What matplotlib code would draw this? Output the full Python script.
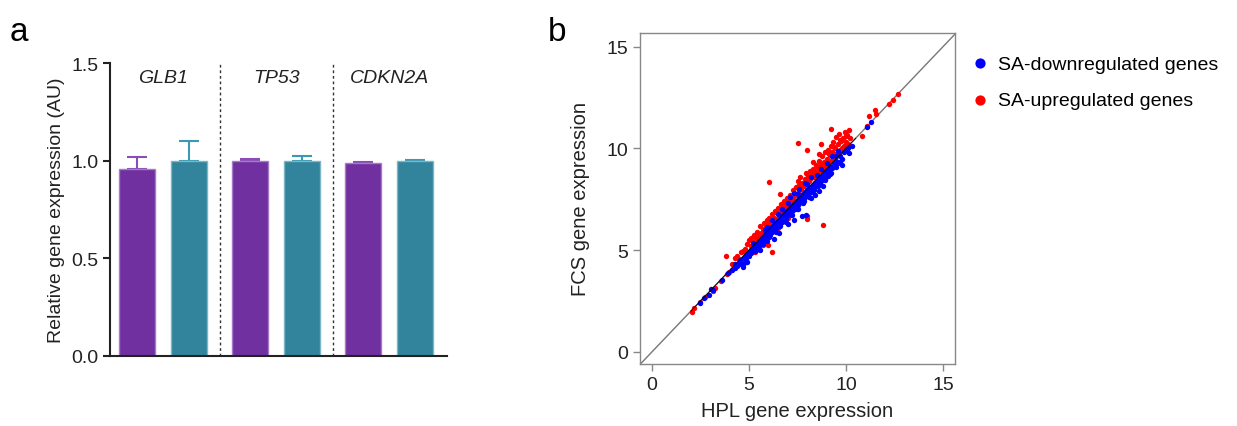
import matplotlib
matplotlib.use("Agg")
import matplotlib.pyplot as plt
import numpy as np

plt.rcParams['font.family'] = ['Liberation Sans', 'DejaVu Sans']

# --- panel a data ---
genes = ["GLB1", "TP53", "CDKN2A"]
hpl_vals = [0.96, 1.00, 0.987]
hpl_err = [0.06, 0.01, 0.005]
fcs_vals = [1.00, 1.00, 1.00]
fcs_err = [0.10, 0.025, 0.002]
a_ticks = [0.0, 0.5, 1.0, 1.5]

# --- panel b data (HPL x, FCS y) ---
down_x = [2.45, 2.7, 2.95, 3.05, 3.15, 3.6, 3.9, 4.1, 4.25, 4.3, 4.4, 4.5, 4.55, 4.6, 4.7, 4.75, 4.8, 4.85, 4.9, 5.0,
          5.0, 5.1, 5.1, 5.2, 5.25, 5.3, 5.35, 5.4, 5.45, 5.5, 5.5, 5.6, 5.6, 5.65, 5.7, 5.75, 5.8, 5.85, 5.9, 5.95,
          6.0, 6.0, 6.05, 6.1, 6.1, 6.15, 6.2, 6.2, 6.25, 6.3, 6.3, 6.35, 6.4, 6.4, 6.45, 6.5, 6.5, 6.55, 6.6, 6.6,
          6.65, 6.7, 6.7, 6.75, 6.8, 6.8, 6.85, 6.9, 6.9, 6.95, 7.0, 7.0, 7.05, 7.1, 7.1, 7.15, 7.2, 7.2, 7.25, 7.3,
          7.3, 7.35, 7.4, 7.4, 7.45, 7.5, 7.5, 7.55, 7.6, 7.6, 7.65, 7.7, 7.7, 7.75, 7.8, 7.8, 7.85, 7.9, 7.9, 7.95,
          8.0, 8.0, 8.05, 8.1, 8.1, 8.2, 8.2, 8.3, 8.3, 8.4, 8.4, 8.5, 8.5, 8.6, 8.6, 8.7, 8.7, 8.8, 8.8, 8.9,
          9.0, 9.0, 9.1, 9.2, 9.2, 9.3, 9.4, 9.5, 9.5, 9.6, 9.7, 9.8, 9.9, 10.0, 10.1, 10.3, 11.3, 11.1,
          6.3, 6.55, 7.0, 7.3, 7.75, 7.95, 8.2, 8.4, 8.6, 8.8, 5.8, 6.2, 6.7, 7.1, 7.3, 7.6, 7.9, 8.2, 8.7, 9.0,
          9.3, 9.6, 10.15, 9.25, 4.75, 5.55, 5.95, 6.4, 6.9, 7.2, 7.5, 7.8, 8.1, 5.2, 5.9, 6.5, 7.0, 7.5, 8.0, 8.5,
          9.5, 9.8, 4.9, 5.3, 5.7, 6.1, 6.6, 7.15, 7.45, 7.85, 8.35, 8.9, 6.75, 7.25, 7.65, 8.15, 8.55, 9.05, 6.05,
          6.45, 6.85, 7.35, 7.7, 8.25, 8.65, 9.15, 9.7]
down_y = [2.4, 2.65, 2.8, 3.1, 3.05, 3.55, 3.85, 4.0, 4.1, 4.3, 4.2, 4.35, 4.5, 4.3, 4.15, 4.6, 4.7, 4.5, 4.8, 4.9,
          4.7, 5.0, 4.85, 5.1, 4.95, 5.2, 5.0, 5.3, 5.15, 5.45, 5.2, 5.5, 5.3, 5.6, 5.45, 5.7, 5.5, 5.75, 5.6, 5.9,
          5.7, 5.95, 5.8, 6.05, 5.85, 6.0, 6.15, 5.9, 6.1, 6.25, 6.0, 6.2, 6.35, 6.1, 6.3, 6.45, 6.2, 6.4, 6.55, 6.3,
          6.5, 6.65, 6.4, 6.6, 6.75, 6.5, 6.7, 6.85, 6.6, 6.8, 6.95, 6.7, 6.9, 7.05, 6.8, 7.0, 7.15, 6.9, 7.1, 7.25,
          7.0, 7.2, 7.35, 7.1, 7.3, 7.45, 7.2, 7.4, 7.55, 7.3, 7.5, 7.65, 7.4, 7.6, 7.75, 7.5, 7.7, 7.85, 7.6, 7.8,
          7.95, 7.7, 7.9, 8.05, 7.8, 8.1, 7.9, 8.2, 8.0, 8.3, 8.1, 8.4, 8.2, 8.5, 8.3, 8.6, 8.4, 8.7, 8.5, 8.8,
          8.9, 8.7, 9.0, 9.1, 8.8, 9.1, 9.3, 9.4, 9.6, 9.3, 9.6, 9.5, 9.8, 9.9, 10.0, 10.1, 11.3, 11.05,
          5.55, 5.85, 6.3, 6.5, 6.65, 6.7, 7.55, 7.7, 7.9, 8.15, 6.0, 6.5, 7.0, 7.6, 7.8, 8.0, 8.3, 8.6, 9.0, 9.3,
          9.6, 9.85, 9.75, 9.05, 4.35, 5.0, 5.45, 5.9, 6.4, 6.7, 7.0, 7.3, 7.6, 5.35, 6.15, 6.75, 7.3, 7.75, 8.25, 8.7,
          9.1, 9.2, 4.4, 4.95, 5.3, 5.75, 6.2, 6.75, 7.0, 7.4, 7.95, 8.45, 6.45, 6.95, 7.35, 7.85, 8.15, 8.65, 5.65,
          6.15, 6.5, 7.05, 7.35, 7.85, 8.25, 8.75, 9.35]

up_x = [2.05, 2.15, 2.45, 2.75, 3.15, 3.25, 3.55, 3.85, 3.95, 3.8, 4.1, 4.3, 4.4, 4.5, 4.6, 4.7, 4.8, 4.9, 5.0, 5.1,
        5.1, 5.2, 5.25, 5.3, 5.35, 5.4, 5.5, 5.55, 5.6, 5.7, 5.75, 5.8, 5.85, 5.9, 5.95, 6.0, 6.05, 6.03, 6.1, 6.15,
        6.2, 6.2, 6.25, 6.3, 6.35, 6.4, 6.45, 6.5, 6.55, 6.6, 6.6, 6.65, 6.7, 6.75, 6.8, 6.85, 6.9, 6.95, 7.0, 7.05,
        7.1, 7.15, 7.2, 7.25, 7.3, 7.35, 7.4, 7.54, 7.5, 7.5, 7.55, 7.6, 7.65, 7.7, 7.75, 7.97, 7.85, 7.9, 7.95, 8.0,
        8.05, 8.1, 8.15, 8.2, 8.25, 8.3, 8.35, 8.4, 8.45, 8.5, 8.55, 8.6, 8.65, 8.7, 8.75, 8.8, 8.85, 8.9, 8.95, 9.0,
        9.05, 9.1, 9.15, 9.2, 9.25, 9.3, 9.35, 9.4, 9.45, 9.5, 9.55, 9.6, 9.65, 9.7, 9.75, 9.8, 9.85, 9.9, 9.95, 10.0,
        10.05, 10.1, 10.15, 10.2, 9.2, 8.7, 10.8, 11.1, 11.2, 11.5, 11.55, 12.2, 12.4, 12.7, 8.8, 8.0, 7.97, 6.0,
        6.5, 7.0, 5.4, 8.9, 8.0, 4.5, 5.7, 9.1, 9.4, 9.7, 10.0, 8.6, 8.3]
up_y = [1.97, 2.15, 2.45, 2.7, 3.0, 3.15, 3.5, 3.8, 3.9, 4.69, 4.3, 4.6, 4.7, 4.55, 4.9, 4.95, 5.05, 5.3, 5.5, 5.2,
        5.6, 5.4, 5.75, 4.9, 5.6, 5.9, 5.7, 6.2, 5.85, 6.05, 6.35, 5.95, 6.2, 6.5, 6.1, 6.35, 6.6, 8.35, 6.25, 6.45,
        4.89, 6.75, 6.4, 6.6, 6.9, 6.55, 6.8, 7.05, 6.7, 7.0, 7.75, 7.25, 6.85, 7.1, 7.4, 7.0, 7.25, 7.55, 7.15, 7.4,
        7.7, 7.3, 7.55, 7.95, 7.45, 7.7, 8.1, 10.27, 7.8, 8.4, 7.95, 8.2, 8.6, 8.0, 8.3, 9.94, 8.15, 8.5, 8.8, 8.3,
        8.65, 8.4, 8.9, 8.55, 8.75, 9.0, 8.6, 8.85, 9.2, 8.8, 9.05, 9.4, 8.9, 9.2, 9.6, 9.0, 9.35, 9.8, 9.15, 9.5,
        9.9, 9.3, 9.65, 10.1, 9.45, 9.8, 10.3, 9.6, 10.0, 10.55, 9.75, 10.2, 10.7, 9.9, 10.35, 10.0, 10.5, 10.1, 10.8, 10.3,
        10.65, 10.2, 10.9, 10.5, 10.95, 10.2, 10.6, 11.1, 11.6, 11.9, 11.7, 12.2, 12.4, 12.68, 6.25, 6.69, 6.55, 5.25,
        6.1, 6.6, 5.1, 8.5, 7.7, 4.3, 5.25, 9.7, 10.05, 10.4, 10.6, 9.7, 9.35]
b_ticks = [0, 5, 10, 15]

purple = "#7030A0"
teal = "#31849B"

fig = plt.figure(figsize=(12.37, 4.27), dpi=100)

# ---------------- panel a ----------------
ax1 = fig.add_axes([0.0889, 0.164, 0.2724, 0.686])
pos = np.arange(len(genes))
off = 0.23
w = 0.32
ax1.bar(pos - off, hpl_vals, w, color=purple, edgecolor="#A47CC6", linewidth=1, zorder=2)
ax1.bar(pos + off, fcs_vals, w, color=teal, edgecolor="#7DB6C6", linewidth=1, zorder=2)
ax1.errorbar(pos - off, hpl_vals, yerr=[np.zeros(3), hpl_err], fmt="none",
             ecolor="#8A4DB8", elinewidth=1.5, capsize=7, capthick=1.5, zorder=1)
ax1.errorbar(pos + off, fcs_vals, yerr=[np.zeros(3), fcs_err], fmt="none",
             ecolor="#3A9AB5", elinewidth=1.5, capsize=7, capthick=1.5, zorder=1)
for sep in [0.5, 1.5]:
    ax1.plot([sep, sep], [0, 1.5], ls=(0, (2, 2)), color="#333333", lw=1)
for i, g in enumerate(genes):
    ax1.text(i, 1.47, g, style="italic", ha="center", va="top", fontsize=14, color="#222222")
ax1.set_xlim(-0.473, 2.51)
ax1.set_ylim(0, 1.5)
ax1.set_yticks(a_ticks)
ax1.set_yticklabels(["%.1f" % t for t in a_ticks])
ax1.set_xticks([])
ax1.spines["top"].set_visible(False)
ax1.spines["right"].set_visible(False)
ax1.spines["left"].set_color("#222222")
ax1.spines["bottom"].set_color("#222222")
ax1.spines["left"].set_linewidth(1.5)
ax1.spines["bottom"].set_linewidth(1.5)
ax1.tick_params(axis="y", direction="out", length=5, width=1.5, labelsize=14, colors="#222222")
ax1.set_ylabel("Relative gene expression (AU)", fontsize=14, color="#222222", labelpad=4)
fig.text(0.008, 0.905, "a", fontsize=24, color="black")

# ---------------- panel b ----------------
ax2 = fig.add_axes([0.5174, 0.1452, 0.2547, 0.7752])
ax2.plot([-0.6, 15.7], [-0.6, 15.7], color="#777777", lw=1, zorder=1)
ax2.scatter(up_x, up_y, s=15, color="#FF0000", linewidths=0, zorder=2, label="SA-upregulated genes")
ax2.scatter(down_x, down_y, s=15, color="#0000FF", linewidths=0, zorder=3, label="SA-downregulated genes")
ax2.plot([2, 10.5], [2, 10.5], color="black", lw=0.6, zorder=4)
ax2.set_xlim(-0.62, 15.62)
ax2.set_ylim(-0.6, 15.67)
ax2.set_xticks(b_ticks)
ax2.set_yticks(b_ticks)
for s in ax2.spines.values():
    s.set_color("#888888")
    s.set_linewidth(1)
ax2.tick_params(direction="out", length=5, width=1, color="#888888", labelsize=14, labelcolor="#222222")
ax2.set_xlabel("HPL gene expression", fontsize=14.5, color="#222222", labelpad=6)
ax2.set_ylabel("FCS gene expression", fontsize=14.5, color="#222222", labelpad=12)
fig.text(0.443, 0.905, "b", fontsize=24, color="black")

h, l = ax2.get_legend_handles_labels()
fig.legend([h[1], h[0]], [l[1], l[0]], loc="upper left", bbox_to_anchor=(0.769, 0.91),
           frameon=False, fontsize=14, markerscale=1.9, handletextpad=0.3, labelspacing=0.95,
           handlelength=1.2)

fig.savefig("out.png", dpi=100)
